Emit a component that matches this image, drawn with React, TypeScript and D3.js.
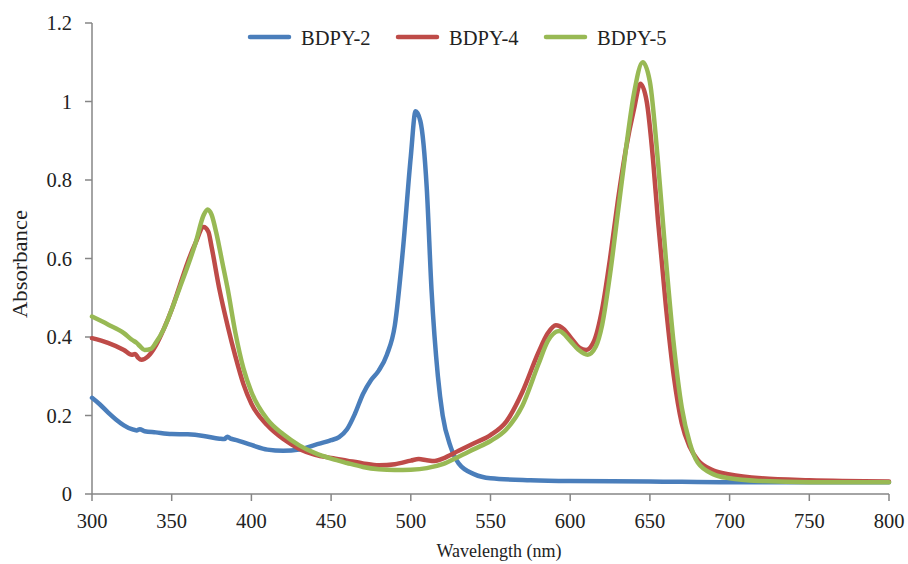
import React from "react";
import * as d3 from "d3";

const seriesNames = ["BDPY-2", "BDPY-4", "BDPY-5"];
const seriesColors = ["#4a7ebb", "#be4b48", "#98b954"];

const bdpy2: [number, number][] = [
  [300, 0.245], [305, 0.228], [310, 0.208], [315, 0.19], [320, 0.175], [325, 0.165], [328, 0.162],
  [330, 0.165], [333, 0.16], [340, 0.157], [350, 0.153], [360, 0.152], [370, 0.148], [380, 0.141],
  [383, 0.14], [385, 0.146], [387, 0.141], [390, 0.138], [400, 0.125], [410, 0.113], [420, 0.11],
  [430, 0.113], [440, 0.125], [450, 0.137], [455, 0.145], [460, 0.165], [465, 0.205], [470, 0.255],
  [475, 0.29], [480, 0.315], [485, 0.355], [490, 0.43], [495, 0.62], [500, 0.86], [503, 0.975],
  [506, 0.95], [510, 0.78], [513, 0.52], [517, 0.3], [520, 0.2], [525, 0.12], [530, 0.078],
  [540, 0.05], [550, 0.04], [575, 0.035], [600, 0.033], [650, 0.032], [700, 0.03], [750, 0.03], [800, 0.03],
];

const bdpy4: [number, number][] = [
  [300, 0.397], [310, 0.385], [320, 0.367], [325, 0.355], [327, 0.357], [329, 0.347], [331, 0.342],
  [335, 0.35], [340, 0.378], [345, 0.42], [350, 0.47], [355, 0.53], [360, 0.59], [365, 0.64],
  [370, 0.68], [373, 0.668], [375, 0.63], [380, 0.52], [385, 0.43], [390, 0.35], [395, 0.28],
  [400, 0.23], [410, 0.175], [420, 0.14], [430, 0.115], [440, 0.1], [450, 0.092], [460, 0.085],
  [470, 0.078], [480, 0.073], [490, 0.076], [500, 0.085], [505, 0.089], [510, 0.086], [515, 0.084],
  [520, 0.09], [530, 0.11], [540, 0.13], [550, 0.15], [560, 0.185], [570, 0.26], [580, 0.36],
  [586, 0.41], [591, 0.43], [596, 0.42], [601, 0.395], [606, 0.372], [610, 0.367], [615, 0.39],
  [620, 0.47], [625, 0.6], [630, 0.75], [635, 0.88], [640, 0.98], [644, 1.045], [648, 1.0],
  [652, 0.85], [655, 0.7], [660, 0.48], [665, 0.3], [670, 0.18], [675, 0.12], [680, 0.087],
  [690, 0.06], [700, 0.05], [720, 0.04], [750, 0.035], [800, 0.032],
];

const bdpy5: [number, number][] = [
  [300, 0.452], [310, 0.432], [320, 0.41], [325, 0.393], [328, 0.385], [330, 0.377], [333, 0.367],
  [337, 0.37], [340, 0.385], [345, 0.42], [350, 0.47], [355, 0.525], [360, 0.58], [365, 0.64],
  [370, 0.71], [372.5, 0.725], [375, 0.712], [378, 0.665], [382, 0.585], [385, 0.525], [390, 0.41],
  [395, 0.32], [400, 0.26], [410, 0.19], [420, 0.152], [430, 0.124], [440, 0.104], [450, 0.09],
  [460, 0.079], [470, 0.069], [480, 0.063], [490, 0.061], [500, 0.062], [510, 0.066], [520, 0.076],
  [530, 0.095], [540, 0.115], [550, 0.135], [560, 0.165], [570, 0.225], [580, 0.33], [586, 0.39],
  [593, 0.415], [600, 0.39], [605, 0.368], [611, 0.355], [616, 0.375], [620, 0.43], [625, 0.56],
  [630, 0.72], [635, 0.88], [640, 1.02], [645.5, 1.1], [650, 1.05], [655, 0.85], [660, 0.6],
  [665, 0.38], [670, 0.22], [675, 0.13], [680, 0.08], [690, 0.05], [700, 0.04], [720, 0.033],
  [750, 0.03], [800, 0.03],
];

const allSeries = [bdpy2, bdpy4, bdpy5];
const xTicks = [300, 350, 400, 450, 500, 550, 600, 650, 700, 750, 800];
const yTicks = [0, 0.2, 0.4, 0.6, 0.8, 1, 1.2];
const yTickLabels = ["0", "0.2", "0.4", "0.6", "0.8", "1", "1.2"];

export default function App() {
  const W = 908, H = 564;
  const left = 92, right = 889, top = 23, bottom = 494;
  const x = d3.scaleLinear().domain([300, 800]).range([left, right]);
  const y = d3.scaleLinear().domain([0, 1.2]).range([bottom, top]);
  const line = d3.line<[number, number]>().x(d => x(d[0])).y(d => y(d[1])).curve(d3.curveMonotoneX);
  const font = "'Liberation Serif', 'Times New Roman', serif";
  const axisColor = "#868686";
  const legendX = [250, 398, 546];
  return (
    <svg width={W} height={H} style={{ position: "absolute", left: 0, top: 0, background: "#fff" }}>
      <rect width={W} height={H} fill="#fff" />
      <line x1={left} x2={left} y1={top} y2={bottom} stroke={axisColor} strokeWidth={1.5} />
      <line x1={left} x2={right} y1={bottom} y2={bottom} stroke={axisColor} strokeWidth={1.5} />
      {yTicks.map((t, i) => (
        <g key={"y" + i}>
          <line x1={left - 7} x2={left} y1={y(t)} y2={y(t)} stroke={axisColor} strokeWidth={1.5} />
          <text x={72} y={y(t)} dy="0.35em" textAnchor="end" fontFamily={font} fontSize={20.5} fill="#222">{yTickLabels[i]}</text>
        </g>
      ))}
      {xTicks.map((t, i) => (
        <g key={"x" + i}>
          <line x1={x(t)} x2={x(t)} y1={bottom} y2={bottom + 7} stroke={axisColor} strokeWidth={1.5} />
          <text x={x(t)} y={528} textAnchor="middle" fontFamily={font} fontSize={20.5} fill="#222">{t}</text>
        </g>
      ))}
      <text x={499} y={557} textAnchor="middle" fontFamily={font} fontSize={18} fill="#222">Wavelength (nm)</text>
      <text transform={`translate(27, 264) rotate(-90)`} textAnchor="middle" fontFamily={font} fontSize={20} textLength={108} lengthAdjust="spacingAndGlyphs" fill="#222">Absorbance</text>
      {allSeries.map((s, i) => (
        <path key={"s" + i} d={line(s) || ""} fill="none" stroke={seriesColors[i]} strokeWidth={4.5} strokeLinejoin="round" strokeLinecap="round" />
      ))}
      {seriesNames.map((n, i) => (
        <g key={"l" + i}>
          <line x1={legendX[i]} x2={legendX[i] + 39} y1={37} y2={37} stroke={seriesColors[i]} strokeWidth={4.5} strokeLinecap="round" />
          <text x={legendX[i] + 51} y={45} fontFamily={font} fontSize={20.5} fill="#222">{n}</text>
        </g>
      ))}
    </svg>
  );
}
